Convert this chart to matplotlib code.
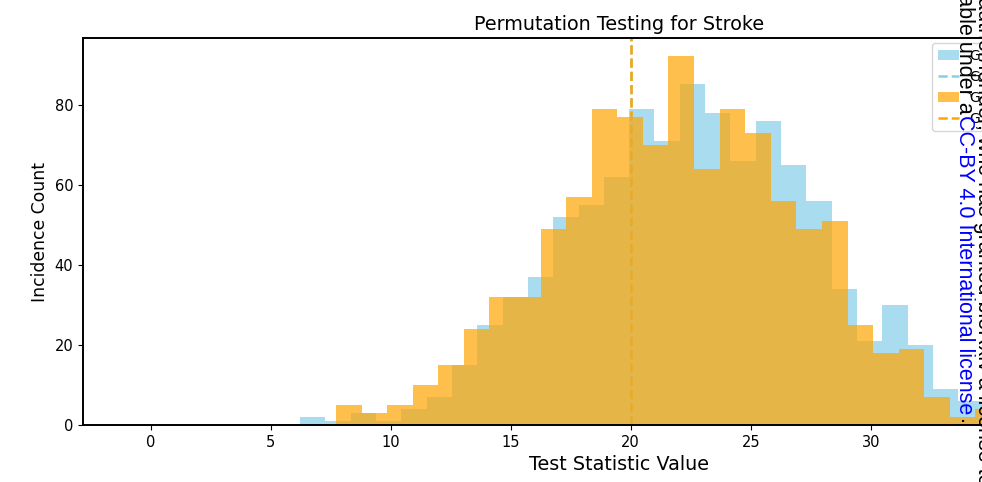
import numpy as np
import matplotlib
matplotlib.use("Agg")
import matplotlib.pyplot as plt

# ---- data ----
blue_start = 6.221
blue_width = 1.055
blue_counts = [2, 1, 3, 1, 4, 7, 15, 25, 32, 37, 52, 55, 62, 79, 71, 85, 78,
               66, 76, 65, 56, 34, 21, 30, 20, 9, 6]
orange_start = 7.721
orange_width = 1.0656
orange_counts = [5, 3, 5, 10, 15, 24, 32, 32, 49, 57, 79, 77, 70, 92, 64, 79,
                 73, 56, 49, 51, 25, 18, 19, 7, 2, 4]
observed_blue = 20.0
observed_orange = 20.0
labels = ["Group 1 permutations", "Group 1 observed",
          "Group 2 permutations", "Group 2 observed"]
title = "Permutation Testing for Stroke"
xlabel = "Test Statistic Value"
ylabel = "Incidence Count"

blue_edges = blue_start + blue_width * np.arange(len(blue_counts) + 1)
orange_edges = orange_start + orange_width * np.arange(len(orange_counts) + 1)
blue_centers = (blue_edges[:-1] + blue_edges[1:]) / 2
orange_centers = (orange_edges[:-1] + orange_edges[1:]) / 2

W, H = 982, 482
fig = plt.figure(figsize=(W / 100, H / 100), dpi=100)
ax = fig.add_axes([83 / W, 57 / H, 1071.4 / W, 387 / H])

ax.hist(blue_centers, bins=blue_edges, weights=blue_counts,
        color="skyblue", alpha=0.7, label=labels[0])
ax.axvline(observed_blue, color="skyblue", linestyle="--", linewidth=1.8,
           label=labels[1])
ax.hist(orange_centers, bins=orange_edges, weights=orange_counts,
        color="orange", alpha=0.7, label=labels[2])
ax.axvline(observed_orange, color="orange", linestyle="--", linewidth=1.8,
           label=labels[3])

ax.set_xlim(-2.82, 41.82)
ax.set_ylim(0, 96.6)
ax.set_yticks([0, 20, 40, 60, 80])
ax.tick_params(labelsize=10.5)
for s in ax.spines.values():
    s.set_linewidth(1.4)

ax.set_title(title, fontsize=13.8)
ax.set_xlabel(xlabel, fontsize=13.8)
ax.set_ylabel(ylabel, fontsize=12.4)

ax.legend(loc="upper left", bbox_to_anchor=(932.3 / W, 1 - 43.3 / H),
          bbox_transform=fig.transFigure, borderaxespad=0,
          handlelength=1.5, fontsize=10)

# ---- preprint watermark (rotated, partly outside the crop) ----
fs = 15.5
em = fs * 100 / 72
wm_family = ["Liberation Sans", "DejaVu Sans"]
x2 = (958.3 - 0.21 * em) / W
fig.text(x2, 1 - 114 / H, "It is made available under a", rotation=-90,
         ha="left", va="bottom", fontsize=fs, family=wm_family, color="black")
fig.text(x2, 1 - 115 / H, "CC-BY 4.0 International license", rotation=-90,
         ha="left", va="top", fontsize=fs, family=wm_family, color="blue")
fig.text(x2, 1 - 419 / H, ".", rotation=-90,
         ha="left", va="top", fontsize=fs, family=wm_family, color="black")
x1 = (977.5 - 0.21 * em) / W
fig.text(x1, 1 + 60 / H,
         "is the author/funder, who has granted bioRxiv a license to display "
         "the preprint in perpetuity. It is made",
         rotation=-90, ha="left", va="top", fontsize=fs, family=wm_family,
         color="black")

fig.savefig("out.png", dpi=100)
